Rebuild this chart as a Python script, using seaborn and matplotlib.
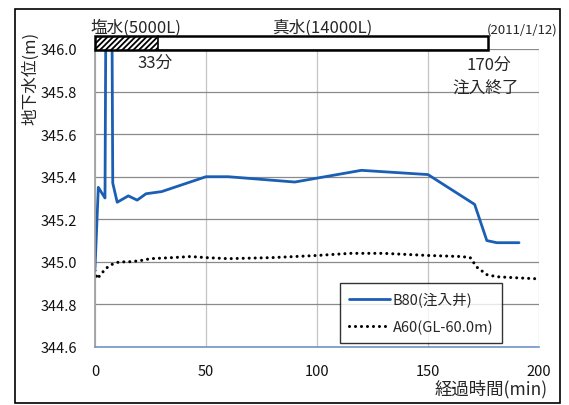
import matplotlib
matplotlib.use("Agg")
import matplotlib.pyplot as plt
from matplotlib.patches import Rectangle
import seaborn as sns
import pandas as pd

# ---- data ----
b80_t = [0, 1.5, 4.5, 5.5, 7, 8, 10, 15, 19, 23, 30, 50, 60, 90, 120, 150, 171, 176.5, 181, 191]
b80_v = [344.97, 345.35, 345.30, 347.5, 347.5, 345.37, 345.28, 345.31, 345.29, 345.32, 345.33,
         345.40, 345.40, 345.375, 345.43, 345.41, 345.27, 345.10, 345.09, 345.09]
a60_t = [0, 1, 2.5, 5, 8, 11, 15, 20, 25, 35, 43, 50, 60, 80, 100, 115, 130, 150, 165, 169,
         172, 176.5, 181, 190, 200]
a60_v = [344.96, 344.92, 344.94, 344.97, 344.99, 345.0, 345.0, 345.005, 345.015, 345.02, 345.025,
         345.02, 345.015, 345.02, 345.03, 345.04, 345.04, 345.03, 345.025, 345.02, 344.975, 344.94,
         344.93, 344.925, 344.92]
x_ticks = [0, 50, 100, 150, 200]
y_ticks = [344.6, 344.8, 345.0, 345.2, 345.4, 345.6, 345.8, 346.0]
label_b80 = "B80(注入井)"
label_a60 = "A60(GL-60.0m)"
salt_end = 28.5   # end of hatched segment (min)
bar_end = 177     # end of injection bar (min)

sns.set_theme(style="white")
plt.rcParams['font.family'] = ['Noto Sans CJK JP', 'DejaVu Sans']

W, H = 569, 406
fig = plt.figure(figsize=(W / 100, H / 100), dpi=100)
fig.patch.set_facecolor("white")
ax = fig.add_axes([95 / W, 1 - 348 / H, 444 / W, 298 / H])

df_b = pd.DataFrame({"t": b80_t, "v": b80_v})
df_a = pd.DataFrame({"t": a60_t, "v": a60_v})
sns.lineplot(data=df_b, x="t", y="v", ax=ax, color="#1a5fb4", lw=2.0, sort=False, label=label_b80)
sns.lineplot(data=df_a, x="t", y="v", ax=ax, color="black", lw=2.2, sort=False,
             linestyle=(0, (0.01, 1.95)), dash_capstyle="round", label=label_a60)

ax.set_xlim(0, 200)
ax.set_ylim(344.6, 346.0)
ax.set_xticks(x_ticks)
ax.set_yticks(y_ticks)
ax.set_yticklabels([f"{v:.1f}" for v in y_ticks])
ax.tick_params(axis="both", length=0, labelsize=10.5, colors="#111111")
ax.tick_params(axis="x", pad=12)
ax.tick_params(axis="y", pad=13)
ax.set_xlabel("")
ax.set_ylabel("")
ax.grid(axis="y", color="#8a8a8a", lw=0.9)
ax.grid(axis="x", color="#c4c4c4", lw=0.9)
for s in ["top", "right"]:
    ax.spines[s].set_visible(False)
ax.spines["left"].set_color("#a0a0a0")
ax.spines["bottom"].set_color("#6f95c8")
ax.spines["bottom"].set_linewidth(1.2)

# injection bar
plt.rcParams['hatch.linewidth'] = 1.3
ax.add_patch(Rectangle((0, 345.995), salt_end, 0.066, facecolor="white", edgecolor="black",
                       hatch="//////", lw=0, clip_on=False, zorder=5))
ax.add_patch(Rectangle((0, 345.995), bar_end, 0.066, facecolor="none", edgecolor="black",
                       lw=1.8, clip_on=False, zorder=6))
ax.plot([salt_end, salt_end], [345.995, 346.061], color="black", lw=1.2, clip_on=False, zorder=6)

leg = ax.legend(loc="lower right", bbox_to_anchor=(0.917, 0.013), fontsize=10.5, frameon=True,
                fancybox=False, edgecolor="black", handlelength=2.8, borderpad=0.6,
                labelspacing=0.9, handletextpad=0.2, borderaxespad=0)
leg.get_frame().set_linewidth(1.0)

def ftext(x, y, s, **kw):
    fig.text(x / W, 1 - y / H, s, **kw)

ftext(90, 28, "塩水(5000L)", fontsize=12, va="center", ha="left")
ftext(322, 28, "真水(14000L)", fontsize=12, va="center", ha="center")
ftext(557, 30, "(2011/1/12)", fontsize=9.5, va="center", ha="right")
ftext(155, 63, "33分", fontsize=12, va="center", ha="center")
ftext(489, 65, "170分", fontsize=12, va="center", ha="center")
ftext(486, 89, "注入終了", fontsize=12, va="center", ha="center")
ftext(31, 78, "地下水位(m)", fontsize=12, va="center", ha="center", rotation=90)
ftext(548, 389, "経過時間(min)", fontsize=12.5, va="center", ha="right")

# outer frame
fig.add_artist(Rectangle((15 / W, 1 - 404 / H), 545 / W, 394 / H, transform=fig.transFigure,
                         facecolor="none", edgecolor="black", lw=1.2))

fig.savefig("out.png", dpi=100)
